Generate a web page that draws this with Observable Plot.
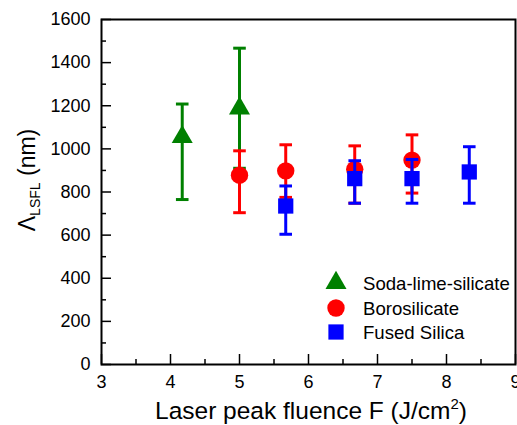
<!DOCTYPE html>
<html>
<head>
<meta charset="utf-8">
<script src="https://cdn.jsdelivr.net/npm/d3@7"></script>
<script src="https://cdn.jsdelivr.net/npm/@observablehq/plot@0.6"></script>
<style>
  html, body { margin: 0; padding: 0; background: #fff; }
</style>
</head>
<body>
<div id="chart"></div>
<script>
// ---- data ----
const xTicks = [3, 4, 5, 6, 7, 8, 9];
const xMinor = [3.5, 4.5, 5.5, 6.5, 7.5, 8.5];
const yTicks = [0, 200, 400, 600, 800, 1000, 1200, 1400, 1600];
const yMinor = [100, 300, 500, 700, 900, 1100, 1300, 1500];

const seriesNames = ["Soda-lime-silicate", "Borosilicate", "Fused Silica"];

const sodaX  = [4.17, 5.0];
const sodaY  = [1055, 1188];
const sodaLo = [765, 910];
const sodaHi = [1208, 1467];

const boroX  = [5.0, 5.67, 6.67, 7.5];
const boroY  = [878, 898, 905, 948];
const boroLo = [704, 775, 748, 795];
const boroHi = [991, 1019, 1014, 1065];

const fusedX  = [5.67, 6.67, 7.5, 8.33];
const fusedY  = [735, 862, 862, 893];
const fusedLo = [604, 748, 748, 748];
const fusedHi = [828, 945, 951, 1010];

// ---- build tables ----
function table(xs, ys, lo, hi) {
  return xs.map((x, i) => ({x, y: ys[i], lo: lo[i], hi: hi[i]}));
}
const series = [
  {name: seriesNames[0], data: table(sodaX, sodaY, sodaLo, sodaHi), color: "#008000", symbol: "triangle", r: 7.8},
  {name: seriesNames[1], data: table(boroX, boroY, boroLo, boroHi), color: "#ff0000", symbol: "circle", r: 8.7},
  {name: seriesNames[2], data: table(fusedX, fusedY, fusedLo, fusedHi), color: "#0000ff", symbol: "square", r: 8.6}
];

const W = 517, H = 425;
const mL = 101, mR = 2, mT = 19, mB = 61;
const plotW = W - mL - mR, plotH = H - mT - mB;

const capSymbol = {
  draw(ctx) { ctx.moveTo(-6.3, 0); ctx.lineTo(6.3, 0); }
};

const marks = [];
for (const s of series) {
  marks.push(Plot.ruleX(s.data, {x: "x", y1: "lo", y2: "hi", stroke: s.color, strokeWidth: 3}));
  marks.push(Plot.dot(s.data, {x: "x", y: "lo", symbol: capSymbol, r: 5, fill: "none", stroke: s.color, strokeWidth: 3}));
  marks.push(Plot.dot(s.data, {x: "x", y: "hi", symbol: capSymbol, r: 5, fill: "none", stroke: s.color, strokeWidth: 3}));
  marks.push(Plot.dot(s.data, {x: "x", y: "y", symbol: s.symbol, r: s.r, fill: s.color, stroke: "none"}));
}

const chart = Plot.plot({
  width: W,
  height: H,
  marginLeft: mL,
  marginRight: mR,
  marginTop: mT,
  marginBottom: mB,
  style: {fontFamily: "'Liberation Sans', Arial, sans-serif", background: "#fff", color: "#000"},
  x: {domain: [3, 9], axis: null},
  y: {domain: [0, 1600], axis: null},
  marks: [
    // inward ticks
    Plot.tickX(xTicks, {x: d => d, insetTop: plotH - 10, stroke: "#000", strokeWidth: 1.5}),
    Plot.tickX(xMinor, {x: d => d, insetTop: plotH - 5, stroke: "#000", strokeWidth: 1.5}),
    Plot.tickY(yTicks, {y: d => d, insetRight: plotW - 10, stroke: "#000", strokeWidth: 1.5}),
    Plot.tickY(yMinor, {y: d => d, insetRight: plotW - 5, stroke: "#000", strokeWidth: 1.5}),
    Plot.axisX(xTicks, {tickSize: 0, tickPadding: 11, fontSize: 18, label: null, tickFormat: d => String(d)}),
    Plot.axisY(yTicks, {tickSize: 0, tickPadding: 11, fontSize: 18, label: null, tickFormat: d => String(d)}),
    ...marks,
    Plot.frame({stroke: "#000", strokeWidth: 2})
  ]
});

document.getElementById("chart").appendChild(chart);

// ---- axis titles and legend ----
const svg = d3.select(chart);
const font = "'Liberation Sans', Arial, sans-serif";

const xl = svg.append("text")
  .attr("x", 311)
  .attr("y", 419)
  .attr("text-anchor", "middle")
  .attr("font-family", font)
  .attr("font-size", 24.5)
  .attr("fill", "#000");
xl.append("tspan").text("Laser peak fluence F (J/cm");
xl.append("tspan").attr("font-size", 15).attr("dy", -10).text("2");
xl.append("tspan").attr("dy", 10).text(")");

const yl = svg.append("text")
  .attr("transform", "translate(35,180) rotate(-90)")
  .attr("text-anchor", "middle")
  .attr("font-family", font)
  .attr("font-size", 23)
  .attr("fill", "#000");
yl.append("tspan").text("Λ");
yl.append("tspan").attr("font-size", 14).attr("dy", 5).text("LSFL");
yl.append("tspan").attr("dy", -5).text(" (nm)");

const legend = svg.append("g");
const legendYs = [283, 308, 332];
series.forEach((s, i) => {
  const sym = s.symbol === "triangle" ? d3.symbolTriangle : s.symbol === "circle" ? d3.symbolCircle : d3.symbolSquare;
  legend.append("path")
    .attr("transform", `translate(336,${legendYs[i]})`)
    .attr("d", d3.symbol(sym, Math.PI * s.r * s.r)())
    .attr("fill", s.color);
  legend.append("text")
    .attr("x", 363)
    .attr("y", legendYs[i])
    .attr("dy", "0.35em")
    .attr("text-anchor", "start")
    .attr("font-family", font)
    .attr("font-size", 18.6)
    .attr("fill", "#000")
    .text(s.name);
});
</script>
</body>
</html>
